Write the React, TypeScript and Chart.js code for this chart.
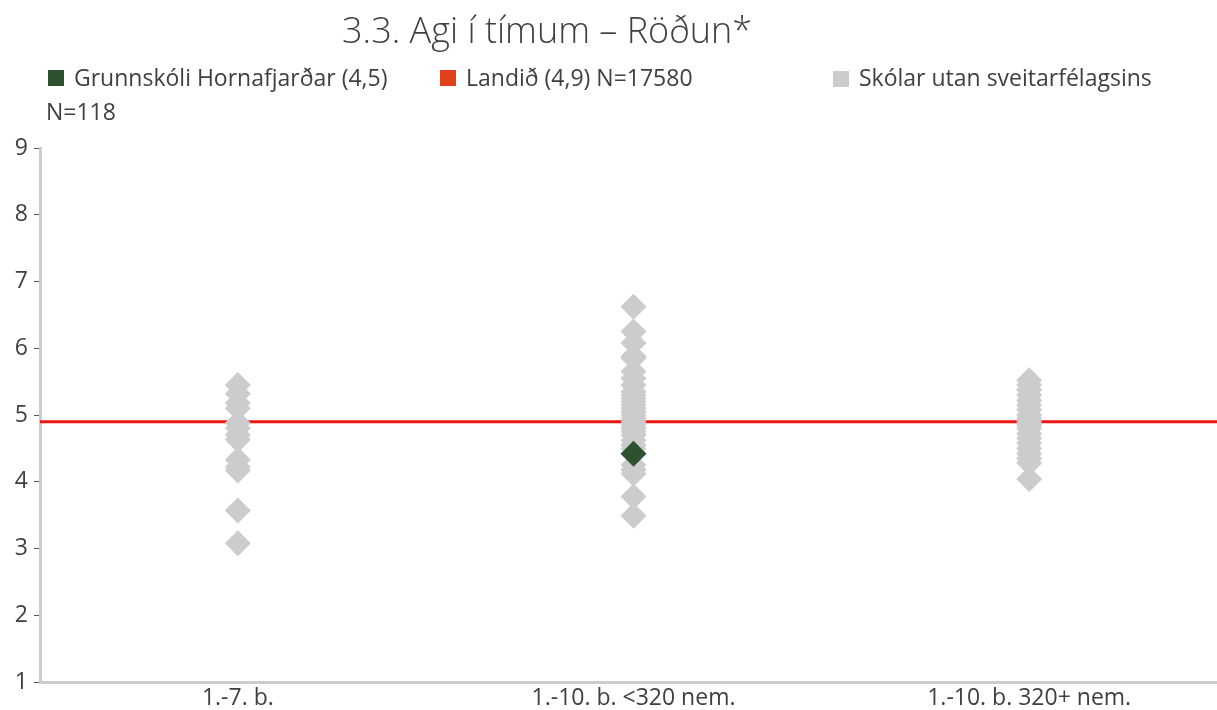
import React, { useEffect, useRef } from "react";
import { Chart, registerables } from "chart.js";

Chart.register(...registerables);

const TITLE = "3.3. Agi í tímum – Röðun*";
const CATEGORIES = ["1.-7. b.", "1.-10. b. <320 nem.", "1.-10. b. 320+ nem."];
const LEGEND_LABELS = [
  "Grunnskóli Hornafjarðar (4,5)",
  "Landið (4,9) N=17580",
  "Skólar utan sveitarfélagsins N=118",
];
const Y_TICKS = [1, 2, 3, 4, 5, 6, 7, 8, 9];

// Other schools, per category
const OTHERS_G1 = [5.45, 5.32, 5.18, 5.1, 4.88, 4.8, 4.7, 4.63, 4.33, 4.22, 4.17, 3.57, 3.08];
const OTHERS_G2 = [
  6.62, 6.25, 6.08, 5.88, 5.85, 5.65, 5.55, 5.45, 5.35, 5.3, 5.25, 5.2, 5.15, 5.1, 5.05,
  5.0, 4.95, 4.9, 4.85, 4.8, 4.75, 4.7, 4.62, 4.55, 4.5, 4.25, 4.18, 4.12, 3.78, 3.49,
];
const OTHERS_G3 = [
  5.52, 5.45, 5.38, 5.3, 5.22, 5.15, 5.08, 5.0, 4.95, 4.9, 4.85, 4.8, 4.72, 4.65, 4.58,
  4.5, 4.42, 4.35, 4.28, 4.04,
];
// The school itself
const SCHOOL_CATEGORY = "1.-10. b. <320 nem.";
const SCHOOL_VALUE = 4.42;
// National average
const NATIONAL_VALUE = 4.9;

const GREEN = "#2e5230";
const RED_LINE = "#ee1414";
const RED_LEGEND = "#e0401c";
const GRAY = "#cccccc";
const TEXT = "#404040";
const FONT = "'Open Sans', 'Noto Sans', sans-serif";

export default function App() {
  const ref = useRef<HTMLCanvasElement | null>(null);

  useEffect(() => {
    if (!ref.current) return;
    const others = [
      ...OTHERS_G1.map((y) => ({ x: CATEGORIES[0], y })),
      ...OTHERS_G2.map((y) => ({ x: CATEGORIES[1], y })),
      ...OTHERS_G3.map((y) => ({ x: CATEGORIES[2], y })),
    ];
    const chart = new Chart(ref.current, {
      type: "scatter",
      data: {
        labels: CATEGORIES,
        datasets: [
          {
            label: LEGEND_LABELS[0],
            data: [{ x: SCHOOL_CATEGORY, y: SCHOOL_VALUE }],
            pointStyle: "rectRot",
            pointRadius: 13,
            backgroundColor: GREEN,
            borderColor: GREEN,
            borderWidth: 0,
            order: 0,
          },
          {
            label: LEGEND_LABELS[2],
            data: others,
            pointStyle: "rectRot",
            pointRadius: 13,
            backgroundColor: GRAY,
            borderColor: GRAY,
            borderWidth: 0,
            order: 1,
          },
          {
            type: "line",
            label: LEGEND_LABELS[1],
            xAxisID: "x2",
            data: [
              { x: 0, y: NATIONAL_VALUE },
              { x: 1, y: NATIONAL_VALUE },
            ],
            borderColor: RED_LINE,
            borderWidth: 3,
            pointRadius: 0,
            showLine: true,
            order: 2,
          } as any,
        ],
      },
      options: {
        animation: false,
        responsive: false,
        maintainAspectRatio: false,
        layout: { padding: { top: 148, left: 0, right: 0, bottom: 0 } },
        plugins: {
          legend: { display: false },
          title: { display: false },
          tooltip: { enabled: false },
        },
        scales: {
          x: {
            type: "category",
            labels: CATEGORIES,
            offset: true,
            grid: { display: false, drawTicks: false },
            border: { display: true, color: GRAY, width: 3 },
            ticks: {
              color: TEXT,
              font: { family: FONT, size: 23 },
              padding: 3,
              maxRotation: 0,
            },
            afterFit: (s: any) => {
              s.height = 28;
            },
          },
          x2: {
            type: "linear",
            min: 0,
            max: 1,
            display: false,
          },
          y: {
            type: "linear",
            min: Y_TICKS[0],
            max: Y_TICKS[Y_TICKS.length - 1],
            afterBuildTicks: (s: any) => {
              s.ticks = Y_TICKS.map((v) => ({ value: v }));
            },
            grid: {
              display: true,
              drawOnChartArea: false,
              drawTicks: true,
              tickLength: 6,
              tickColor: "#595959",
              tickWidth: 1,
            },
            border: { display: true, color: GRAY, width: 3 },
            ticks: {
              color: TEXT,
              font: { family: FONT, size: 23 },
              padding: 6,
            },
            afterFit: (s: any) => {
              s.width = 40;
            },
          },
        },
      },
    });
    return () => chart.destroy();
  }, []);

  const legendItem = (i: number, color: string, left: number) => (
    <div
      key={i}
      style={{
        position: "absolute",
        left,
        top: 60,
        width: 380,
        display: "flex",
        alignItems: "flex-start",
      }}
    >
      <div
        style={{
          width: 16,
          height: 16,
          background: color,
          marginTop: 10,
          marginRight: 10,
          flex: "0 0 auto",
        }}
      />
      <div style={{ fontSize: 23, lineHeight: "34px", color: TEXT }}>{LEGEND_LABELS[i]}</div>
    </div>
  );

  return (
    <div
      style={{
        position: "fixed",
        left: 0,
        top: 0,
        width: 1217,
        height: 710,
        overflow: "hidden",
        background: "#fff",
        fontFamily: FONT,
      }}
    >
      <canvas ref={ref} width={1240} height={710} style={{ position: "absolute", left: 0, top: 0 }} />
      <div
        style={{
          position: "absolute",
          left: 342,
          top: 6,
          fontSize: 36,
          fontWeight: 300,
          color: TEXT,
          whiteSpace: "nowrap",
          lineHeight: "48px",
        }}
      >
        {TITLE}
      </div>
      {legendItem(0, GREEN, 48)}
      {legendItem(1, RED_LEGEND, 440)}
      <div
        style={{
          position: "absolute",
          left: 46,
          top: 60,
          width: 1130,
          fontSize: 23,
          lineHeight: "34px",
          color: TEXT,
          textIndent: 787,
        }}
      >
        <span
          style={{
            display: "inline-block",
            width: 16,
            height: 16,
            background: GRAY,
            marginRight: 10,
            textIndent: 0,
            verticalAlign: "-1px",
          }}
        />
        {LEGEND_LABELS[2]}
      </div>
    </div>
  );
}
